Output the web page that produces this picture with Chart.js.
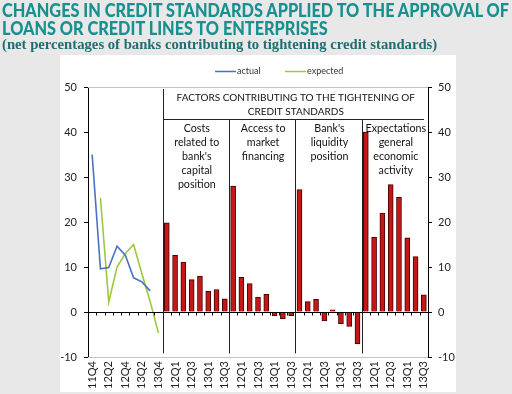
<!DOCTYPE html>
<html>
<head>
<meta charset="utf-8">
<script src="https://cdn.jsdelivr.net/npm/chart.js@4.4.1/dist/chart.umd.min.js"></script>
<style>
  html, body { margin: 0; padding: 0; background: #e8e8e8; }
  body { width: 512px; height: 394px; position: relative; overflow: hidden; }
  #wrap { position: absolute; left: 0; top: 0; width: 512px; height: 394px; }
  #title { position: absolute; left: 2px; top: 1px; font-family: Lato, sans-serif; font-weight: 900;
           font-size: 16.3px; line-height: 15.5px; color: #17908f; white-space: nowrap;
           transform: scaleY(1.14); transform-origin: 0 0; }
  #subtitle { position: absolute; left: 2px; top: 36px; font-family: "Liberation Serif", serif; font-weight: bold;
           font-size: 14.7px; line-height: 17px; color: #1f6f70; white-space: nowrap; }
</style>
</head>
<body>
<div id="wrap"><canvas id="c" width="512" height="394"></canvas></div>
<div id="title">CHANGES IN CREDIT STANDARDS APPLIED TO THE APPROVAL OF<br>LOANS OR CREDIT LINES TO ENTERPRISES</div>
<div id="subtitle">(net percentages of banks contributing to tightening credit standards)</div>
<script>
// ---- data ----
const surveyQuarters = ['11Q4','12Q1','12Q2','12Q3','12Q4','13Q1','13Q2','13Q3','13Q4'];
const factorQuarters = ['11Q4','12Q1','12Q2','12Q3','12Q4','13Q1','13Q2','13Q3'];
const actual   = [35, 9.6, 9.9, 14.6, 12.6, 7.6, 6.7, 4.7];          // 11Q4..13Q3
const expected = [25.4, 2.2, 10, 13, 15, 8.5, 2.3, -4.7];           // 12Q1..13Q4
const costs        = [19.8, 12.6, 11.1, 7.2, 8.0, 4.6, 5.0, 2.9];
const access       = [28.0, 7.7, 6.3, 3.3, 3.9, -0.8, -1.5, -0.8];
const liquidity    = [27.2, 2.3, 2.8, -2.0, 0.5, -2.6, -3.2, -7.1];
const expectations = [40.0, 16.6, 22.0, 28.3, 25.5, 16.5, 12.3, 3.8];
const factorNames = [
  ['Costs','related to','bank\'s','capital','position'],
  ['Access to','market','financing'],
  ['Bank\'s','liquidity','position'],
  ['Expectations','general','economic','activity']
];
const headerLines = ['FACTORS CONTRIBUTING TO THE TIGHTENING OF', 'CREDIT STANDARDS'];
const seriesNames = ['actual', 'expected'];
const yMin = -10, yMax = 50, yStep = 10;

// ---- build ----
const factorSets = [costs, access, liquidity, expectations];
const labels = surveyQuarters.concat(...factorSets.map(() => factorQuarters));
const nS = surveyQuarters.length;
const pad = n => new Array(n).fill(null);
const barData = pad(nS).concat(...factorSets);
const actualData = actual.concat(pad(labels.length - actual.length));
const expectedData = pad(1).concat(expected, pad(labels.length - 1 - expected.length));
const panelStarts = factorSets.map((s, i) => nS + i * factorQuarters.length);

const FONT = 'Lato, "Open Sans", sans-serif';
const blue = '#4a72c4', green = '#9cc83a';

const decor = {
  id: 'decor',
  beforeDraw(chart) {
    const c = chart.ctx;
    c.save();
    c.fillStyle = '#e8e8e8';
    c.fillRect(0, 0, chart.width, chart.height);
    c.fillStyle = '#ffffff';
    c.fillRect(60, 55, 396, 337);
    c.restore();
  },
  afterDraw(chart) {
    const c = chart.ctx, a = chart.chartArea, x = chart.scales.x, y = chart.scales.y;
    const n = labels.length;
    const bound = k => k <= 0 ? a.left : (k >= n ? a.right : (x.getPixelForValue(k - 1) + x.getPixelForValue(k)) / 2);
    c.save();
    c.strokeStyle = '#c4c4c4'; c.lineWidth = 1;
    c.beginPath();
    c.moveTo(a.left, a.top + 0.5); c.lineTo(a.right, a.top + 0.5);
    c.moveTo(a.left, a.bottom + 0.5); c.lineTo(a.right, a.bottom + 0.5);
    c.stroke();
    const y0 = Math.round(y.getPixelForValue(0)) + 0.5;
    c.strokeStyle = '#000'; c.lineWidth = 1;
    c.beginPath();
    c.moveTo(a.left, y0); c.lineTo(a.right, y0);
    for (let k = 1; k < n; k++) {
      const bx = Math.round(bound(k)) + 0.5;
      c.moveTo(bx, y0); c.lineTo(bx, y0 + 3);
    }
    c.stroke();
    const yHead = Math.round(y.getPixelForValue(42.8)) + 0.5;
    const yBot = y.getPixelForValue(-9.2);
    c.strokeStyle = '#222';
    c.beginPath();
    panelStarts.forEach((k, i) => {
      const bx = Math.round(bound(k)) + 0.5;
      c.moveTo(bx, i === 0 ? a.top + 2 : yHead);
      c.lineTo(bx, yBot);
    });
    const hx0 = Math.round(bound(panelStarts[0])) + 0.5;
    c.moveTo(hx0, yHead); c.lineTo(a.right - 4, yHead);
    c.stroke();
    c.fillStyle = '#111';
    c.textAlign = 'center'; c.textBaseline = 'middle';
    c.font = '10px ' + FONT;
    const hcx = (hx0 + a.right) / 2;
    headerLines.forEach((t, i) => c.fillText(t, hcx, a.top + 11 + i * 14));
    c.font = '10.7px ' + FONT;
    panelStarts.forEach((k, i) => {
      const px = (bound(k) + bound(k + factorQuarters.length)) / 2 + 1;
      factorNames[i].forEach((t, j) => c.fillText(t, px, yHead + 9 + j * 14));
    });
    c.font = '9px ' + FONT; c.textAlign = 'left'; c.fillStyle = '#333';
    const ly = 71.5;
    [[215, blue], [285, green]].forEach(([lx, col], i) => {
      c.strokeStyle = col; c.lineWidth = 1.5;
      c.beginPath(); c.moveTo(lx, ly); c.lineTo(lx + 21, ly); c.stroke();
      c.fillText(seriesNames[i], lx + 22, ly);
    });
    c.restore();
  }
};

const yCommon = {
  min: yMin, max: yMax,
  grid: { display: true, drawOnChartArea: false, drawTicks: true, tickLength: 4, color: '#000' },
  border: { display: true, color: '#000', width: 1 },
  ticks: { stepSize: yStep, color: '#222', font: { size: 11, family: FONT } }
};

new Chart(document.getElementById('c'), {
  type: 'bar',
  data: {
    labels,
    datasets: [
      { type: 'bar', label: 'factors', data: barData, backgroundColor: '#c41718', borderColor: '#4a0000',
        borderWidth: 1, barThickness: 5, order: 3, yAxisID: 'y' },
      { type: 'line', label: seriesNames[0], data: actualData, borderColor: blue, borderWidth: 1.6,
        pointRadius: 0, tension: 0, spanGaps: false, order: 1, yAxisID: 'y' },
      { type: 'line', label: seriesNames[1], data: expectedData, borderColor: green, borderWidth: 1.6,
        pointRadius: 0, tension: 0, spanGaps: false, order: 2, yAxisID: 'y' }
    ]
  },
  options: {
    responsive: false, animation: false, devicePixelRatio: 1,
    layout: { padding: { top: 87, left: 0, right: 0, bottom: 0 } },
    plugins: { legend: { display: false }, tooltip: { enabled: false }, title: { display: false } },
    scales: {
      x: {
        offset: true,
        grid: { display: false }, border: { display: false },
        ticks: { autoSkip: false, minRotation: 90, maxRotation: 90, padding: -4, color: '#222',
                 font: { size: 11, family: FONT },
                 callback: (v, i) => (i % 2 === 0 ? labels[i] : '') },
        afterFit: s => { s.height = 37; }
      },
      y: Object.assign({}, yCommon, { position: 'left',
        ticks: Object.assign({}, yCommon.ticks, { padding: 7 }),
        afterFit: s => { s.width = 88; } }),
      y2: Object.assign({}, yCommon, { position: 'right',
        ticks: Object.assign({}, yCommon.ticks, { padding: 6 }),
        afterFit: s => { s.width = 84; } })
    }
  },
  plugins: [decor]
});
</script>
</body>
</html>
